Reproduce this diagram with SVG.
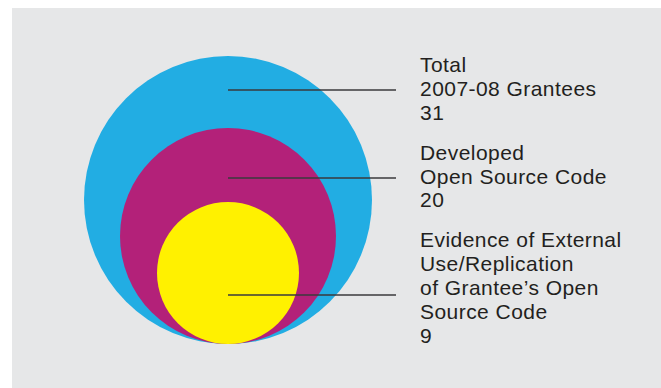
<svg xmlns="http://www.w3.org/2000/svg" width="661" height="388" viewBox="0 0 661 388">
<style>
.lbl{font-family:"Liberation Sans",Arial,sans-serif;font-size:21px;letter-spacing:0.45px;fill:#231f20}
.lead{stroke:#3a3a3c;stroke-width:1.3;fill:none}
</style>
<rect x="0" y="0" width="661" height="388" fill="#ffffff"/>
<rect x="12" y="8" width="649" height="380" fill="#e6e7e8"/>
<g id="total">
<circle cx="228" cy="200" r="144" fill="#22ade3"/>
</g>
<g id="developed">
<circle cx="228" cy="236" r="108" fill="#b32179"/>
</g>
<g id="evidence">
<circle cx="228" cy="273" r="71" fill="#fff100"/>
</g>
<g id="connectors">
<line class="lead" x1="228" y1="90" x2="396" y2="90"/>
<line class="lead" x1="228" y1="178" x2="396" y2="178"/>
<line class="lead" x1="228" y1="295" x2="396" y2="295"/>
</g>
<g id="labels">
<text class="lbl" x="420" y="72">Total</text>
<text class="lbl" x="420" y="96">2007-08 Grantees</text>
<text class="lbl" x="420" y="120">31</text>
<text class="lbl" x="420" y="159.5">Developed</text>
<text class="lbl" x="420" y="183.5">Open Source Code</text>
<text class="lbl" x="420" y="207">20</text>
<text class="lbl" x="420" y="247">Evidence of External</text>
<text class="lbl" x="420" y="271">Use/Replication</text>
<text class="lbl" x="420" y="295">of Grantee’s Open</text>
<text class="lbl" x="420" y="319">Source Code</text>
<text class="lbl" x="420" y="343">9</text>
</g>
</svg>
